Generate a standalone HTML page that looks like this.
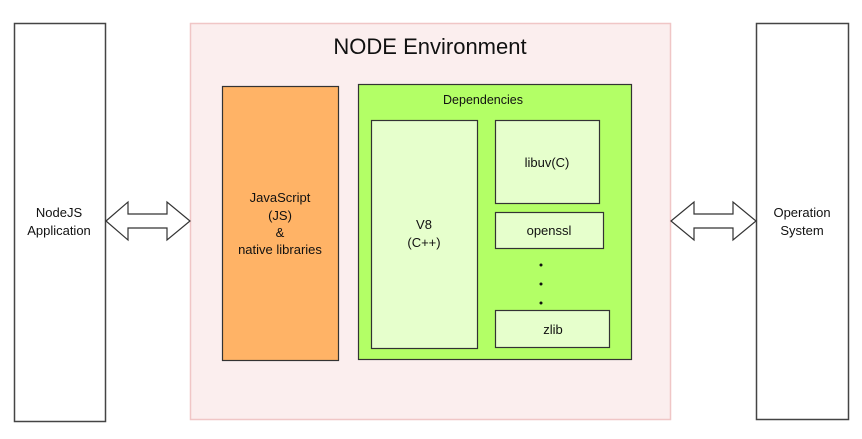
<!DOCTYPE html>
<html><head><meta charset="utf-8"><style>
body{margin:0;width:862px;height:434px;background:#fff;overflow:hidden;font-family:"Liberation Sans",sans-serif;}
</style></head><body>
<svg width="862" height="434" xmlns="http://www.w3.org/2000/svg" font-family="Liberation Sans, sans-serif" fill="#111">
<rect x="14.5" y="23.5" width="91" height="398" fill="#fff" stroke="#444" stroke-width="1.5"/>
<rect x="756.5" y="23.5" width="92" height="396" fill="#fff" stroke="#444" stroke-width="1.5"/>
<rect x="190.5" y="23.5" width="480" height="396" fill="#fbeeee" stroke="#f0c6c6" stroke-width="1.5"/>
<text x="430" y="54" font-size="22" text-anchor="middle">NODE Environment</text>
<rect x="222.5" y="86.5" width="116" height="274" fill="#ffb366" stroke="#333" stroke-width="1.2"/>
<g font-size="13" text-anchor="middle"><text x="280" y="202">JavaScript</text><text x="280" y="220">(JS)</text><text x="280" y="237">&amp;</text><text x="280" y="254">native libraries</text></g>
<rect x="358.5" y="84.5" width="273" height="275" fill="#b3ff66" stroke="#333" stroke-width="1.2"/>
<text x="483" y="104" font-size="12.5" text-anchor="middle">Dependencies</text>
<rect x="371.5" y="120.5" width="106" height="228" fill="#e6ffcc" stroke="#333" stroke-width="1.2"/>
<g font-size="13" text-anchor="middle"><text x="424" y="229">V8</text><text x="424" y="247">(C++)</text></g>
<rect x="495.5" y="120.5" width="104" height="83" fill="#e6ffcc" stroke="#333" stroke-width="1.2"/>
<text x="547" y="167" font-size="13" text-anchor="middle">libuv(C)</text>
<rect x="495.5" y="212.5" width="108" height="36" fill="#e6ffcc" stroke="#333" stroke-width="1.2"/>
<text x="549" y="235" font-size="13" text-anchor="middle">openssl</text>
<g fill="#111"><circle cx="541" cy="265" r="1.5"/><circle cx="541" cy="284" r="1.5"/><circle cx="541" cy="303" r="1.5"/></g>
<rect x="495.5" y="310.5" width="114" height="37" fill="#e6ffcc" stroke="#333" stroke-width="1.2"/>
<text x="553" y="334" font-size="13" text-anchor="middle">zlib</text>
<g font-size="13" text-anchor="middle"><text x="59" y="217">NodeJS</text><text x="59" y="235">Application</text></g>
<g font-size="13" text-anchor="middle"><text x="802" y="217">Operation</text><text x="802" y="235">System</text></g>
<path d="M106 221 L128 202 L128 214 L167 214 L167 202 L190 221 L167 240 L167 228 L128 228 L128 240 Z" fill="#fff" stroke="#333" stroke-width="1.2"/>
<path d="M671 221 L694 202 L694 214 L733 214 L733 202 L756 221 L733 240 L733 228 L694 228 L694 240 Z" fill="#fff" stroke="#333" stroke-width="1.2"/>
</svg>
</body></html>
